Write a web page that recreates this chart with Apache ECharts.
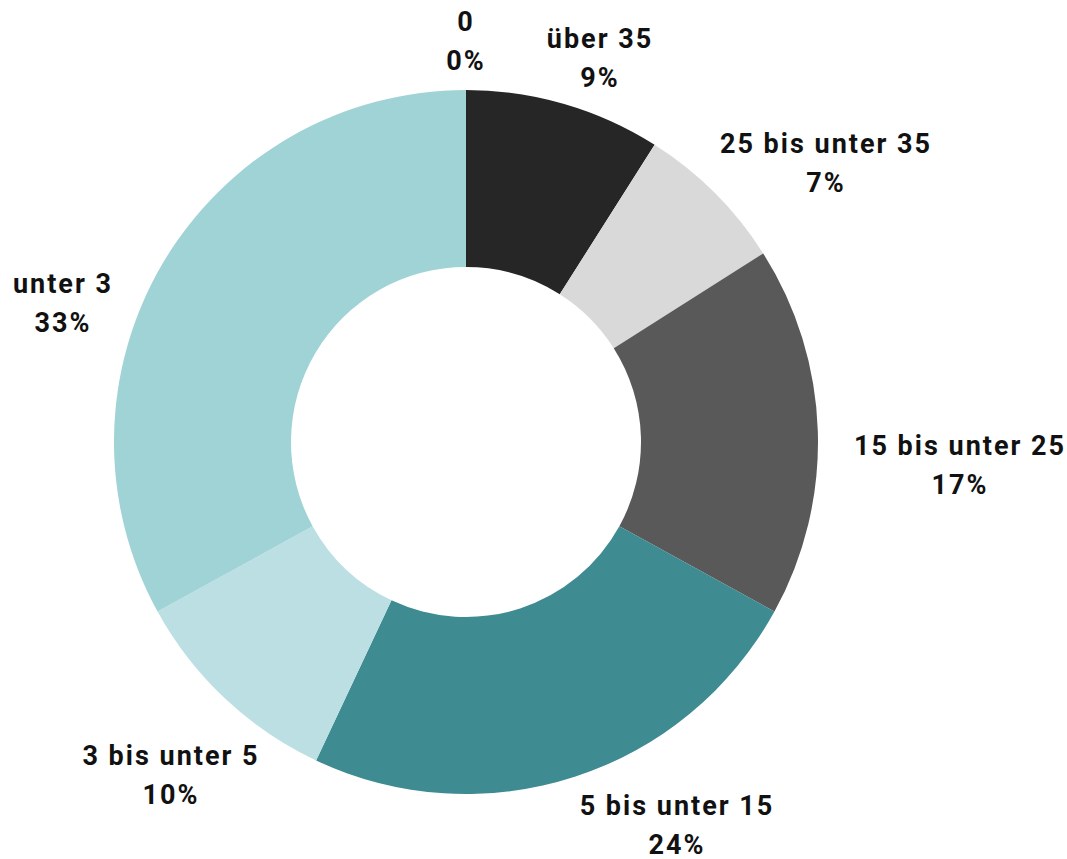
<!DOCTYPE html>
<html>
<head>
<meta charset="utf-8">
<script src="https://cdn.jsdelivr.net/npm/echarts@6/dist/echarts.min.js"></script>
<style>
  html, body { margin: 0; padding: 0; background: #ffffff; }
  #chart { width: 1067px; height: 859px; }
  /* wider tracking for the bold labels */
  #chart svg text { letter-spacing: 2px; }
</style>
</head>
<body>
<div id="chart"></div>
<script>
// Categories (clockwise from 12 o'clock) and their shares in percent
const categories = ['0', 'über 35', '25 bis unter 35', '15 bis unter 25', '5 bis unter 15', '3 bis unter 5', 'unter 3'];
const shares = [0, 9, 7, 17, 24, 10, 33];
const sliceColors = ['#9fd3d6', '#262626', '#d9d9d9', '#595959', '#3e8b92', '#bbdfe2', '#9fd3d6'];

// Label block centres (px) placed around the ring
const labelAnchors = [
  [466, 41], [600, 58], [826, 163], [960, 465], [677, 825], [171, 775], [63, 303]
];

const chart = echarts.init(document.getElementById('chart'), null, { renderer: 'svg' });

chart.setOption({
  animation: false,
  backgroundColor: '#ffffff',
  series: [{
    type: 'pie',
    center: [466, 442],
    radius: [175, 352],
    startAngle: 90,
    clockwise: true,
    avoidLabelOverlap: false,
    silent: true,
    data: categories.map((name, i) => ({
      name: name,
      value: shares[i],
      itemStyle: { color: sliceColors[i] }
    })),
    itemStyle: { borderWidth: 0 },
    label: {
      show: true,
      position: 'outside',
      formatter: p => p.name + '\n' + p.value + '%',
      fontFamily: 'Roboto',
      fontWeight: 'bold',
      fontSize: 27,
      lineHeight: 39,
      color: '#111111',
      align: 'center'
    },
    labelLine: { show: false },
    labelLayout: function (params) {
      const a = labelAnchors[params.dataIndex];
      return { x: a[0], y: a[1], align: 'center', verticalAlign: 'middle' };
    },
    emphasis: { disabled: true }
  }]
});
</script>
</body>
</html>
